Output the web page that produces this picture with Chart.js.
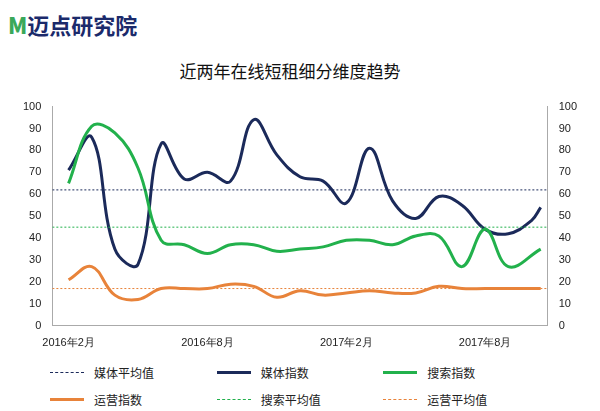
<!DOCTYPE html>
<html><head><meta charset="utf-8">
<script src="https://cdn.jsdelivr.net/npm/chart.js@4"></script>
<style>
body{margin:0;width:600px;height:411px;background:#fff;font-family:"Noto Sans CJK SC",sans-serif;position:relative;overflow:hidden}
#logo{position:absolute;left:8px;top:8px;font-size:22px;font-weight:bold;color:#1b2a6b}
#logo b{color:#3aa85a}
#title{position:absolute;top:58px;left:-10px;width:600px;text-align:center;font-size:17px;color:#111}
#wrap{position:absolute;left:0;top:97px;width:600px;height:256px}
#legend{position:absolute;left:50px;top:364px;width:500px;display:grid;grid-template-columns:1fr 1fr 1fr;row-gap:10px;font-size:12px;color:#222}
#legend div{display:flex;align-items:center}
#legend i{display:inline-block;width:34px;margin-right:10px}
</style></head><body>
<div id="logo"><b>M</b>迈点研究院</div>
<div id="title">近两年在线短租细分维度趋势</div>
<div id="wrap"><canvas id="c"></canvas></div>
<div id="legend">
<div><i style="border-top:1px dashed #1b2a5a"></i>媒体平均值</div>
<div><i style="border-top:3px solid #1b2a5a"></i>媒体指数</div>
<div><i style="border-top:3px solid #22b14c"></i>搜索指数</div>
<div><i style="border-top:3px solid #e8833a"></i>运营指数</div>
<div><i style="border-top:1px dashed #22b14c"></i>搜索平均值</div>
<div><i style="border-top:1px dashed #e8833a"></i>运营平均值</div>
</div>
<script>
// 月份标签(索引 0 = 2016年2月)
const tickLabels = {0:'2016年2月',6:'2016年8月',12:'2017年2月',18:'2017年8月'}
const monthX = [0,1,2,3,4,5,6,7,8,9,10,11,12,13,14,15,16,17,18,19,20,20.4]
const meiti = [71,86,35,28,83,67,70,66,94,78,68,66,56,81,57,49,59,55,44,42,48,54]
const sousuo = [65,91,88,72,39,37,33,37,37,34,35,36,39,39,37,41,41,27,44,27,35]
const yunying = [21,27,14,12,17,17,17,19,18,13,16,14,15,16,15,15,18,17,17,17,17]
const meitiAvg = 62, sousuoAvg = 45, yunyingAvg = 17

const pts = (arr, last) => arr.map((v, i) => ({x: i === arr.length - 1 ? last : monthX[i], y: v}))
const flat = v => [{x:-0.7,y:v},{x:20.7,y:v}]

new Chart(document.getElementById('c'), {
  type: 'line',
  data: {
    datasets: [
      {data: flat(meitiAvg), borderColor:'#1b2a5a', borderWidth:1, borderDash:[2,2], pointRadius:0},
      {data: flat(sousuoAvg), borderColor:'#22b14c', borderWidth:1, borderDash:[2,2], pointRadius:0},
      {data: flat(yunyingAvg), borderColor:'#e8833a', borderWidth:1, borderDash:[2,2], pointRadius:0},
      {data: pts(yunying, 20.4), borderColor:'#e8833a', borderWidth:3, pointRadius:0, tension:0.4},
      {data: pts(sousuo, 20.4), borderColor:'#22b14c', borderWidth:3, pointRadius:0, tension:0.4},
      {data: pts(meiti, 20.4), borderColor:'#1b2a5a', borderWidth:3, pointRadius:0, tension:0.4},
    ],
  },
  options: {
    responsive: true, maintainAspectRatio: false, animation: false,
    layout: {padding: {left: 20, right: 20, top: 5}},
    plugins: {legend: {display: false}, tooltip: {enabled: false}},
    scales: {
      x: {type:'linear', min:-0.7, max:20.7,
        afterBuildTicks: s => { s.ticks = [0,6,12,18].map(v => ({value: v})) },
        ticks: {callback: v => tickLabels[v], font:{size:11}, color:'#222', maxRotation:0},
        grid: {display:false}, border: {color:'#aaa'}},
      y: {min:0, max:100, ticks:{stepSize:10, font:{size:11}, color:'#222'}, grid:{display:false}, border:{color:'#aaa'}},
      y2: {position:'right', min:0, max:100, ticks:{stepSize:10, font:{size:11}, color:'#222'}, grid:{display:false}, border:{color:'#aaa'}},
    },
  },
})
</script>
</body></html>
